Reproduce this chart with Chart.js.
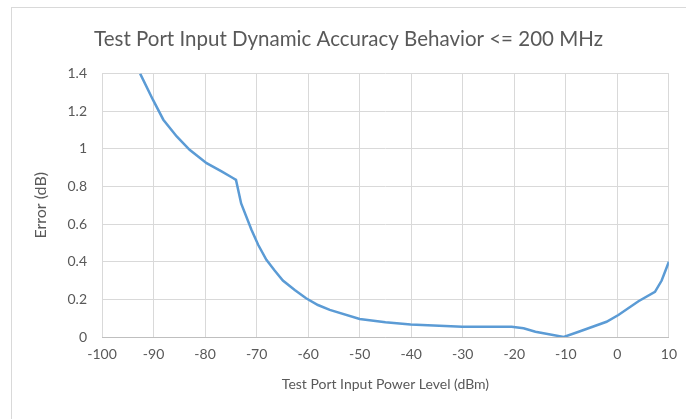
<!DOCTYPE html>
<html>
<head>
<meta charset="utf-8">
<script src="https://cdn.jsdelivr.net/npm/chart.js@4.4.1/dist/chart.umd.min.js"></script>
<style>
  body { margin: 0; background: #fff; }
  #frame { position: absolute; left: 11px; top: 7px; width: 700px; height: 430px;
           border-left: 1px solid #d9d9d9; border-top: 1px solid #d9d9d9; }
  #wrap { position: absolute; left: 0; top: 0; width: 686px; height: 419px; }
</style>
</head>
<body>
<div id="frame"></div>
<div id="wrap"><canvas id="chart" width="686" height="419"></canvas></div>
<script>
// valores
var power = [-92.6, -90.1, -88.1, -85.5, -83.0, -79.7, -76.8, -74.6, -74.0, -73.0, -71.0,
  -69.7, -68.1, -66.5, -64.9, -62.6, -60.4, -58.1, -55.8, -50.0, -45.0, -40.1, -30.1,
  -20.5, -18.2, -15.9, -10.4, -7.5, -2.1, 0.2, 4.1, 7.3, 8.6, 10];
var erro = [1.4, 1.26, 1.155, 1.066, 0.995, 0.924, 0.88, 0.845, 0.835, 0.71, 0.57,
  0.49, 0.41, 0.353, 0.30, 0.25, 0.206, 0.17, 0.144, 0.096, 0.078, 0.067, 0.055,
  0.055, 0.046, 0.028, 0.0, 0.028, 0.081, 0.117, 0.19, 0.24, 0.30, 0.40];
var xTicks = [-100, -90, -80, -70, -60, -50, -40, -30, -20, -10, 0, 10];

var pontos = []
for (let i = 0; i < power.length; i++) {
    pontos.push({x: power[i], y: erro[i]})
}

var cinza = '#595959';
var fonte = 'Lato, "Open Sans", sans-serif';

var ctx = document.getElementById('chart').getContext('2d');
var myChart = new Chart(ctx, {
    type: 'line',
    data: {
        datasets: [{
            label: 'Error',
            data: pontos,
            borderColor: '#5B9BD5',
            backgroundColor: '#5B9BD5',
            borderWidth: 2.5,
            pointRadius: 0,
            tension: 0
        }]
    },
    options: {
        responsive: false,
        animation: false,
        layout: { padding: { left: 27, right: 16, top: 0, bottom: 22 } },
        scales: {
            x: {
                type: 'linear', min: -100, max: 10,
                afterBuildTicks: function(s) { s.ticks = xTicks.map(v => ({value: v})) },
                afterFit: function(s) { s.height = 60 },
                grid: { color: '#d9d9d9', drawTicks: false },
                border: { color: '#bfbfbf' },
                ticks: { color: cinza, font: { family: fonte, size: 14 }, padding: 9, maxRotation: 0 },
                title: { display: true, text: 'Test Port Input Power Level (dBm)', color: cinza,
                         font: { family: fonte, size: 14 }, padding: { top: 5 } }
            },
            y: {
                min: 0, max: 1.4,
                ticks: { stepSize: 0.2, color: cinza, font: { family: fonte, size: 14 }, padding: 15,
                         callback: function(v) { return String(Number(v.toFixed(1))) } },
                afterFit: function(s) { s.width = 75 },
                grid: { color: '#d9d9d9', drawTicks: false },
                border: { display: false },
                title: { display: true, text: 'Error (dB)', color: cinza,
                         font: { family: fonte, size: 16 }, padding: { bottom: 4 } }
            }
        },
        plugins: {
            legend: { display: false },
            tooltip: { enabled: false },
            title: { display: true, text: 'Test Port Input Dynamic Accuracy Behavior <= 200 MHz',
                     color: cinza, font: { family: fonte, size: 20.5, weight: 'normal' },
                     padding: { top: 27, bottom: 22 } }
        }
    }
});
</script>
</body>
</html>
